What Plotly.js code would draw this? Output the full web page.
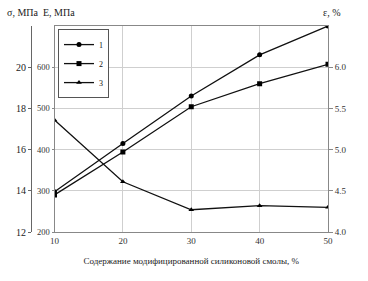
<!DOCTYPE html>
<html><head><meta charset="utf-8">
<script src="https://cdn.plot.ly/plotly-3.0.1.min.js"></script>
<style>html,body{margin:0;padding:0;background:#fff}#c{width:368px;height:281px}</style>
</head><body><div id="c"></div>
<script>
const content = [10, 20, 30, 40, 50];
const sigma1 = [13.95, 16.3, 18.6, 20.6, 22.0];
const modulusE2 = [290, 394, 504, 560, 607];
const elong3 = [5.36, 4.61, 4.27, 4.32, 4.30];
const seriesNames = ['1', '2', '3'];
const xTicks = [10, 20, 30, 40, 50];
const eTicks = [200, 300, 400, 500, 600];
const sTicks = [12, 14, 16, 18, 20];
const epsTicks = [4.0, 4.5, 5.0, 5.5, 6.0];

const F = 'Liberation Serif, Times New Roman, serif';
const line = {color: '#111', width: 1.3};
const traces = [
  {x: content, y: sigma1, yaxis: 'y2', name: seriesNames[0], mode: 'lines+markers', line: line,
   marker: {symbol: 'circle', size: 5, color: '#000'}},
  {x: content, y: modulusE2, yaxis: 'y', name: seriesNames[1], mode: 'lines+markers', line: line,
   marker: {symbol: 'square', size: 5, color: '#000'}},
  {x: content, y: elong3, yaxis: 'y3', name: seriesNames[2], mode: 'lines+markers', line: line,
   marker: {symbol: 'triangle-up', size: 5, color: '#000'}}
];
const L = 20, R = 328;
const W = R - L;
const layout = {
  width: 368, height: 281,
  margin: {l: L, r: 368 - R, t: 26, b: 49, pad: 0},
  paper_bgcolor: '#fff', plot_bgcolor: '#fff',
  font: {family: F, color: '#222', size: 9},
  showlegend: true,
  legend: {x: (58 - L) / W, y: 0.985, xanchor: 'left', yanchor: 'top', xref: 'paper', yref: 'paper',
    bgcolor: '#fff', bordercolor: '#555', borderwidth: 1, font: {family: F, size: 8, color: '#111'},
    tracegroupgap: 0, itemwidth: 30},
  xaxis: {domain: [(54.5 - L) / W, 1], range: [10, 50], tickvals: xTicks, showgrid: true, gridcolor: '#cfcfcf',
    gridwidth: 1, showline: true, linecolor: '#888', linewidth: 1, mirror: true, zeroline: false,
    ticks: '', tickfont: {family: F, size: 9, color: '#333'},
    title: {text: 'Содержание модифицированной силиконовой смолы, %', font: {family: F, size: 9, color: '#222'}, standoff: 12}},
  yaxis: {range: [200, 700], tickvals: eTicks, showgrid: true, gridcolor: '#cfcfcf', showline: true,
    linecolor: '#888', zeroline: false, ticks: 'outside', ticklen: 2, tickcolor: '#888',
    tickfont: {family: F, size: 8.5, color: '#333'}},
  yaxis2: {overlaying: 'y', anchor: 'free', position: (31 - L) / W, side: 'left', range: [12, 22],
    tickvals: sTicks, showgrid: false, showline: true, linecolor: '#666', zeroline: false,
    ticks: 'outside', ticklen: 3, tickcolor: '#666', tickfont: {family: F, size: 10, color: '#222'}},
  yaxis3: {overlaying: 'y', anchor: 'x', side: 'right', range: [4.0, 6.5], tickvals: epsTicks,
    tickformat: '.1f', showgrid: false, showline: true, linecolor: '#888', zeroline: false,
    ticks: 'outside', ticklen: 4, tickcolor: '#888', tickfont: {family: F, size: 9, color: '#333'}},
  annotations: [
    {text: 'σ, МПа', xref: 'paper', yref: 'paper', x: (5 - L) / W, y: 1, xanchor: 'left', yanchor: 'bottom', yshift: 6,
     showarrow: false, font: {family: F, size: 10, color: '#222'}},
    {text: 'E, МПа', xref: 'paper', yref: 'paper', x: (41 - L) / W, y: 1, xanchor: 'left', yanchor: 'bottom', yshift: 6,
     showarrow: false, font: {family: F, size: 10, color: '#222'}},
    {text: 'ε, %', xref: 'paper', yref: 'paper', x: (321 - L) / W, y: 1, xanchor: 'left', yanchor: 'bottom', yshift: 6,
     showarrow: false, font: {family: F, size: 10, color: '#222'}}
  ]
};
Plotly.newPlot('c', traces, layout, {staticPlot: true, displayModeBar: false});
</script></body></html>
